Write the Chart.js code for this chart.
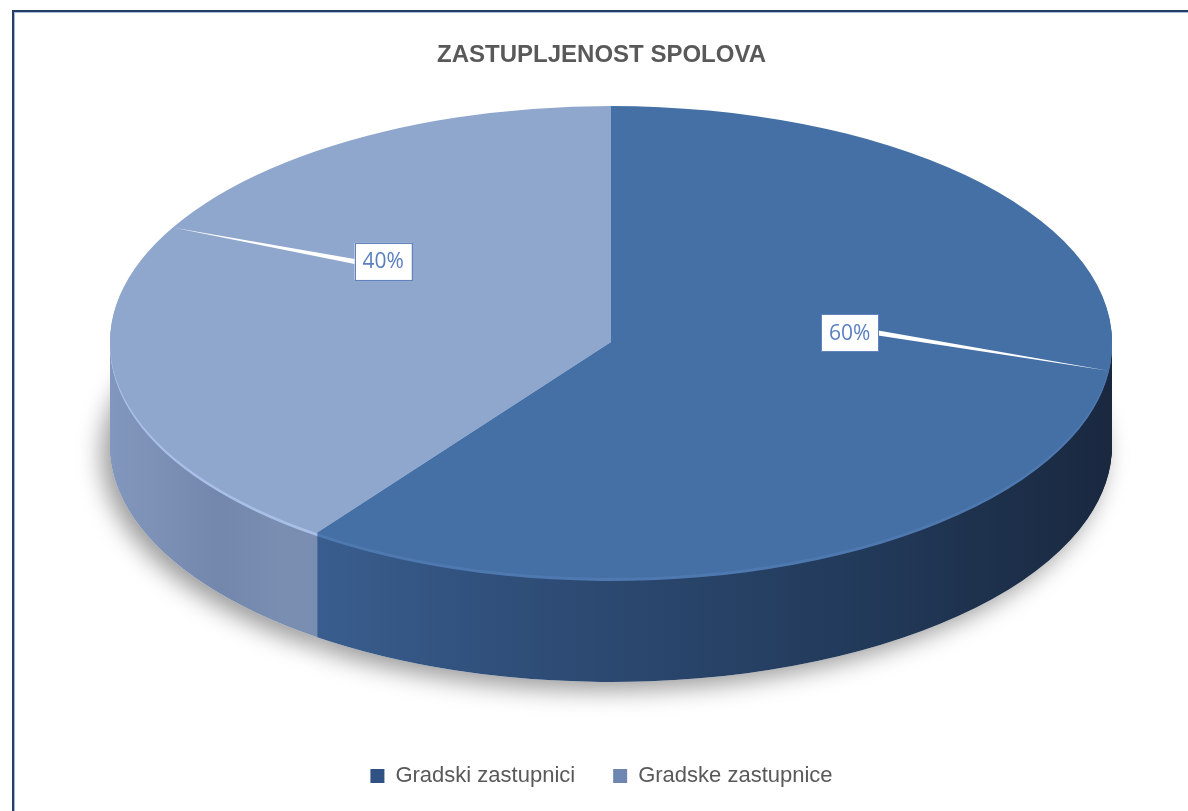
<!DOCTYPE html>
<html><head><meta charset="utf-8">
<script src="https://cdn.jsdelivr.net/npm/chart.js@4"></script>
<style>
html,body{margin:0;padding:0;background:#fff;width:1188px;height:811px;overflow:hidden}
#frame{position:absolute;left:12px;top:10px;width:1200px;height:820px;border-left:2px solid #243e66;border-top:2px solid #243e66;box-shadow:inset 1px 1px 0 #a7bad8;}
#wrap{position:absolute;left:15px;top:13px;width:1173px;height:798px}
</style></head><body>
<div id="frame"></div>
<div id="wrap"><canvas id="c"></canvas></div>
<script>
// ---- data ----
const chartTitle = 'ZASTUPLJENOST SPOLOVA';
const categories = ['Gradski zastupnici', 'Gradske zastupnice'];
const shares = [60, 40];

// ---- style ----
const topColors = ['#4470A5', '#8FA6CD'];
const bevelColors = ['#4f79b0', '#a9bfe6'];
const legendColors = ['#2f5283', '#6f87b0'];
const sideStops = [
  [[0, '#3f659a'], [0.16, '#3b6193'], [0.45, '#2d4b74'], [0.75, '#223a5a'], [1, '#19283f']],
  [[0, '#8297bd'], [0.06, '#7b8fb4'], [0.11, '#7387ac'], [0.17, '#7a8eb2'], [1, '#6a7ea3']]
];
// ellipse geometry in canvas pixels
const G = { cx: 596, cy: 329, rx: 501, ry: 236, depth: 104, bevel: 3, apexLift: 44, labelShift: 11 * Math.PI / 180 };

function drawArcWith(el, ctx, fill) {
  const proxy = Object.create(el);
  proxy.options = { backgroundColor: fill, borderColor: fill, borderWidth: 0, borderAlign: 'center',
    borderRadius: 0, offset: 0, spacing: 0, circular: true, borderJoinStyle: 'round' };
  el.draw.call(proxy, ctx);
}

const pie3d = {
  id: 'pie3d',
  beforeDatasetsDraw(chart) {
    const ctx = chart.ctx;
    const arcs = chart.getDatasetMeta(0).data;
    const a0 = arcs[0];
    const R = a0.outerRadius, ox = a0.x, oy = a0.y;
    const sx = G.rx / R, sy = G.ry / R;
    ctx.save();
    ctx.translate(G.cx, G.cy);
    ctx.scale(sx, sy);
    ctx.translate(-ox, -oy);
    const grads = sideStops.map(stops => {
      const g = ctx.createLinearGradient(ox - R, 0, ox + R, 0);
      stops.forEach(([p, c]) => g.addColorStop(p, c));
      return g;
    });
    // soft shadow
    ctx.save();
    ctx.translate(0, G.depth / sy);
    ctx.shadowColor = 'rgba(0,0,0,0.4)';
    ctx.shadowBlur = 24;
    ctx.shadowOffsetX = -8;
    ctx.shadowOffsetY = 8;
    arcs.forEach(el => drawArcWith(el, ctx, '#ffffff'));
    ctx.restore();
    // side walls
    for (let i = G.depth; i >= 1; i--) {
      ctx.save();
      ctx.translate(0, i / sy);
      arcs.forEach((el, k) => drawArcWith(el, ctx, i <= G.bevel ? bevelColors[k] : grads[k]));
      ctx.restore();
    }
    // transform stays active while the library draws the top surface
  },
  afterDatasetsDraw(chart) {
    const ctx = chart.ctx;
    ctx.restore();
    const arcs = chart.getDatasetMeta(0).data;
    const total = shares.reduce((a, b) => a + b, 0);
    const ax = G.cx, ay = G.cy - G.apexLift;
    arcs.forEach((el, k) => {
      const mid = (el.startAngle + el.endAngle) / 2;
      let d = mid + Math.PI / 2;
      d = Math.atan2(Math.sin(d), Math.cos(d));
      const a = mid - Math.sign(d) * G.labelShift;
      const ex = G.cx + G.rx * Math.cos(a), ey = G.cy + G.ry * Math.sin(a);
      const f = ex > ax ? 0.48 : 0.52;
      const lx = ax + (ex - ax) * f, ly = ay + (ey - ay) * f;
      const w = 57, h = 37;
      const sideX = ex > lx ? lx + w / 2 : lx - w / 2;
      // leader wedge
      ctx.beginPath();
      ctx.moveTo(sideX, ly - 2.5);
      ctx.lineTo(ex, ey);
      ctx.lineTo(sideX, ly + 2.5);
      ctx.closePath();
      ctx.fillStyle = '#ffffff';
      ctx.fill();
      // box
      ctx.fillStyle = '#ffffff';
      ctx.fillRect(lx - w / 2, ly - h / 2, w, h);
      ctx.strokeStyle = '#6283bd';
      ctx.lineWidth = 1;
      ctx.strokeRect(Math.round(lx - w / 2) + 0.5, Math.round(ly - h / 2) + 0.5, w, h);
      ctx.fillStyle = '#5a80c0';
      ctx.font = '21px "Open Sans", "Liberation Sans", sans-serif';
      ctx.textAlign = 'center';
      ctx.textBaseline = 'middle';
      ctx.fillText(Math.round(shares[k] / total * 100) + '%', lx, ly + 1);
    });
  }
};

new Chart(document.getElementById('c'), {
  type: 'pie',
  data: {
    labels: categories,
    datasets: [{ data: shares, backgroundColor: topColors, borderWidth: 0, clip: false, hoverOffset: 0 }]
  },
  options: {
    responsive: true,
    maintainAspectRatio: false,
    animation: false,
    devicePixelRatio: 1,
    events: [],
    layout: { padding: { bottom: 14 } },
    plugins: {
      tooltip: { enabled: false },
      title: {
        display: true, text: chartTitle, color: '#595959',
        font: { family: 'Liberation Sans', size: 24, weight: 'bold' },
        padding: { top: 28, bottom: 10 }
      },
      legend: {
        position: 'bottom',
        labels: {
          boxWidth: 14, boxHeight: 14, padding: 38, color: '#595959',
          font: { family: 'Liberation Sans', size: 22 },
          generateLabels: () => categories.map((c, i) => ({
            text: c, fillStyle: legendColors[i], strokeStyle: legendColors[i], lineWidth: 0,
            hidden: false, index: i, datasetIndex: 0, fontColor: '#595959'
          }))
        }
      }
    }
  },
  plugins: [pie3d]
});
</script>
</body></html>
